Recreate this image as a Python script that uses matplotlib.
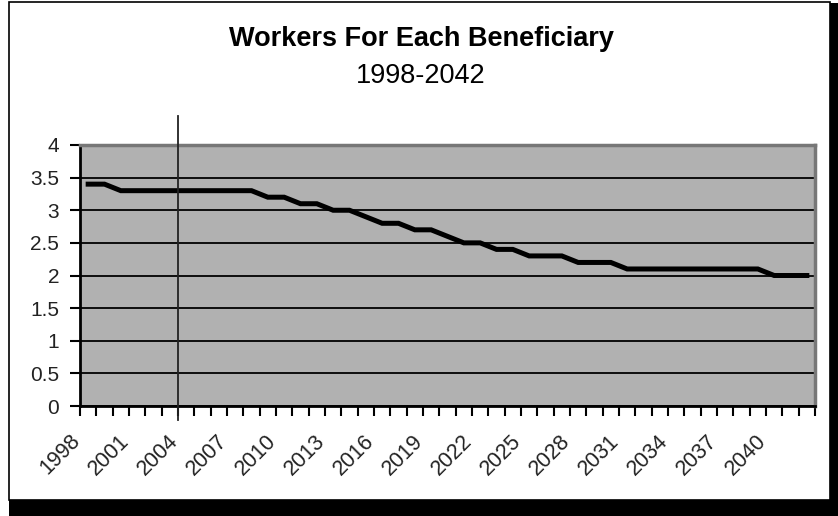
import matplotlib.pyplot as plt
import numpy as np
from matplotlib.patches import Rectangle
from matplotlib.ticker import FormatStrFormatter
from matplotlib.transforms import ScaledTranslation

# Workers for each beneficiary, one value per year
years = list(range(1998, 2043))
workers = [3.4, 3.4, 3.3, 3.3, 3.3, 3.3, 3.3, 3.3, 3.3, 3.3,
           3.3, 3.2, 3.2, 3.1, 3.1, 3.0, 3.0, 2.9, 2.8, 2.8,
           2.7, 2.7, 2.6, 2.5, 2.5, 2.4, 2.4, 2.3, 2.3, 2.3,
           2.2, 2.2, 2.2, 2.1, 2.1, 2.1, 2.1, 2.1, 2.1, 2.1,
           2.1, 2.1, 2.0, 2.0, 2.0]
label_years = years[::3]
marker_year = 2004
title_line1 = 'Workers For Each Beneficiary'
title_line2 = '1998-2042'

plt.rcParams['font.family'] = ['Liberation Sans', 'DejaVu Sans']

W, H = 838, 516
fig = plt.figure(figsize=(W / 100, H / 100), dpi=100)
fig.patch.set_facecolor('white')

# chart frame with black drop shadow (right and bottom)
fig.patches.append(Rectangle((9 / W, 0), 1 - 9 / W, 16 / H, transform=fig.transFigure,
                             facecolor='black', edgecolor='none', zorder=-3))
fig.patches.append(Rectangle((830 / W, 0), 1 - 830 / W, 1 - 3 / H, transform=fig.transFigure,
                             facecolor='black', edgecolor='none', zorder=-3))
fig.patches.append(Rectangle((9 / W, 16 / H), (830 - 9) / W, (500 - 2) / H,
                             transform=fig.transFigure, facecolor='white',
                             edgecolor='black', linewidth=1.2, zorder=-2))

ax = fig.add_axes([80 / W, (H - 406) / H, (815 - 80) / W, (406 - 145) / H])
ax.set_zorder(1)
ax.set_facecolor('#b1b1b1')

x = np.arange(len(years))
ax.plot(x, workers, color='black', linewidth=3.6, solid_joinstyle='miter', zorder=3)

ax.set_xlim(-0.5, len(years) - 0.5)
ax.set_ylim(0, 4)
ax.set_yticks(np.arange(0, 4.01, 0.5))
ax.yaxis.set_major_formatter(FormatStrFormatter('%g'))
ax.yaxis.grid(True, color='black', linewidth=1.3)
ax.set_axisbelow(True)

ax.set_xticks([years.index(y) for y in label_years])
ax.set_xticks(np.arange(-0.5, len(years), 1), minor=True)
ax.tick_params(axis='x', which='major', length=0, pad=23, labelsize=15.5, labelcolor='#222222')
ax.tick_params(axis='x', which='minor', length=7, width=1.5, direction='out')
ax.tick_params(axis='y', which='major', length=7, width=1.5, direction='out',
               labelsize=15, labelcolor='#222222', pad=8)
ax.set_xticklabels([str(y) for y in label_years], rotation=45, ha='right',
                   va='center', rotation_mode='anchor')
# Excel puts the end of each rotated label a bit left of the category centre
shift = ScaledTranslation(-11 / 100, 0, fig.dpi_scale_trans)
for lbl in ax.get_xticklabels():
    lbl.set_transform(lbl.get_transform() + shift)

for side in ['left', 'bottom']:
    ax.spines[side].set_color('black')
    ax.spines[side].set_linewidth(2)
for side in ['top', 'right']:
    ax.spines[side].set_color('#777777')
    ax.spines[side].set_linewidth(2.5)

# vertical marker line at the start of 2004
ax.axvline(years.index(marker_year) - 0.5, ymin=-0.054, ymax=1.111, color='#222222',
           linewidth=1.3, clip_on=False, zorder=4)

fig.text(421 / W, 1 - 46 / H, title_line1, ha='center', va='baseline',
         fontsize=19.5, fontweight='bold')
fig.text(421 / W, 1 - 83 / H, title_line2, ha='center', va='baseline',
         fontsize=19.5)

fig.savefig('out.png', dpi=100)
